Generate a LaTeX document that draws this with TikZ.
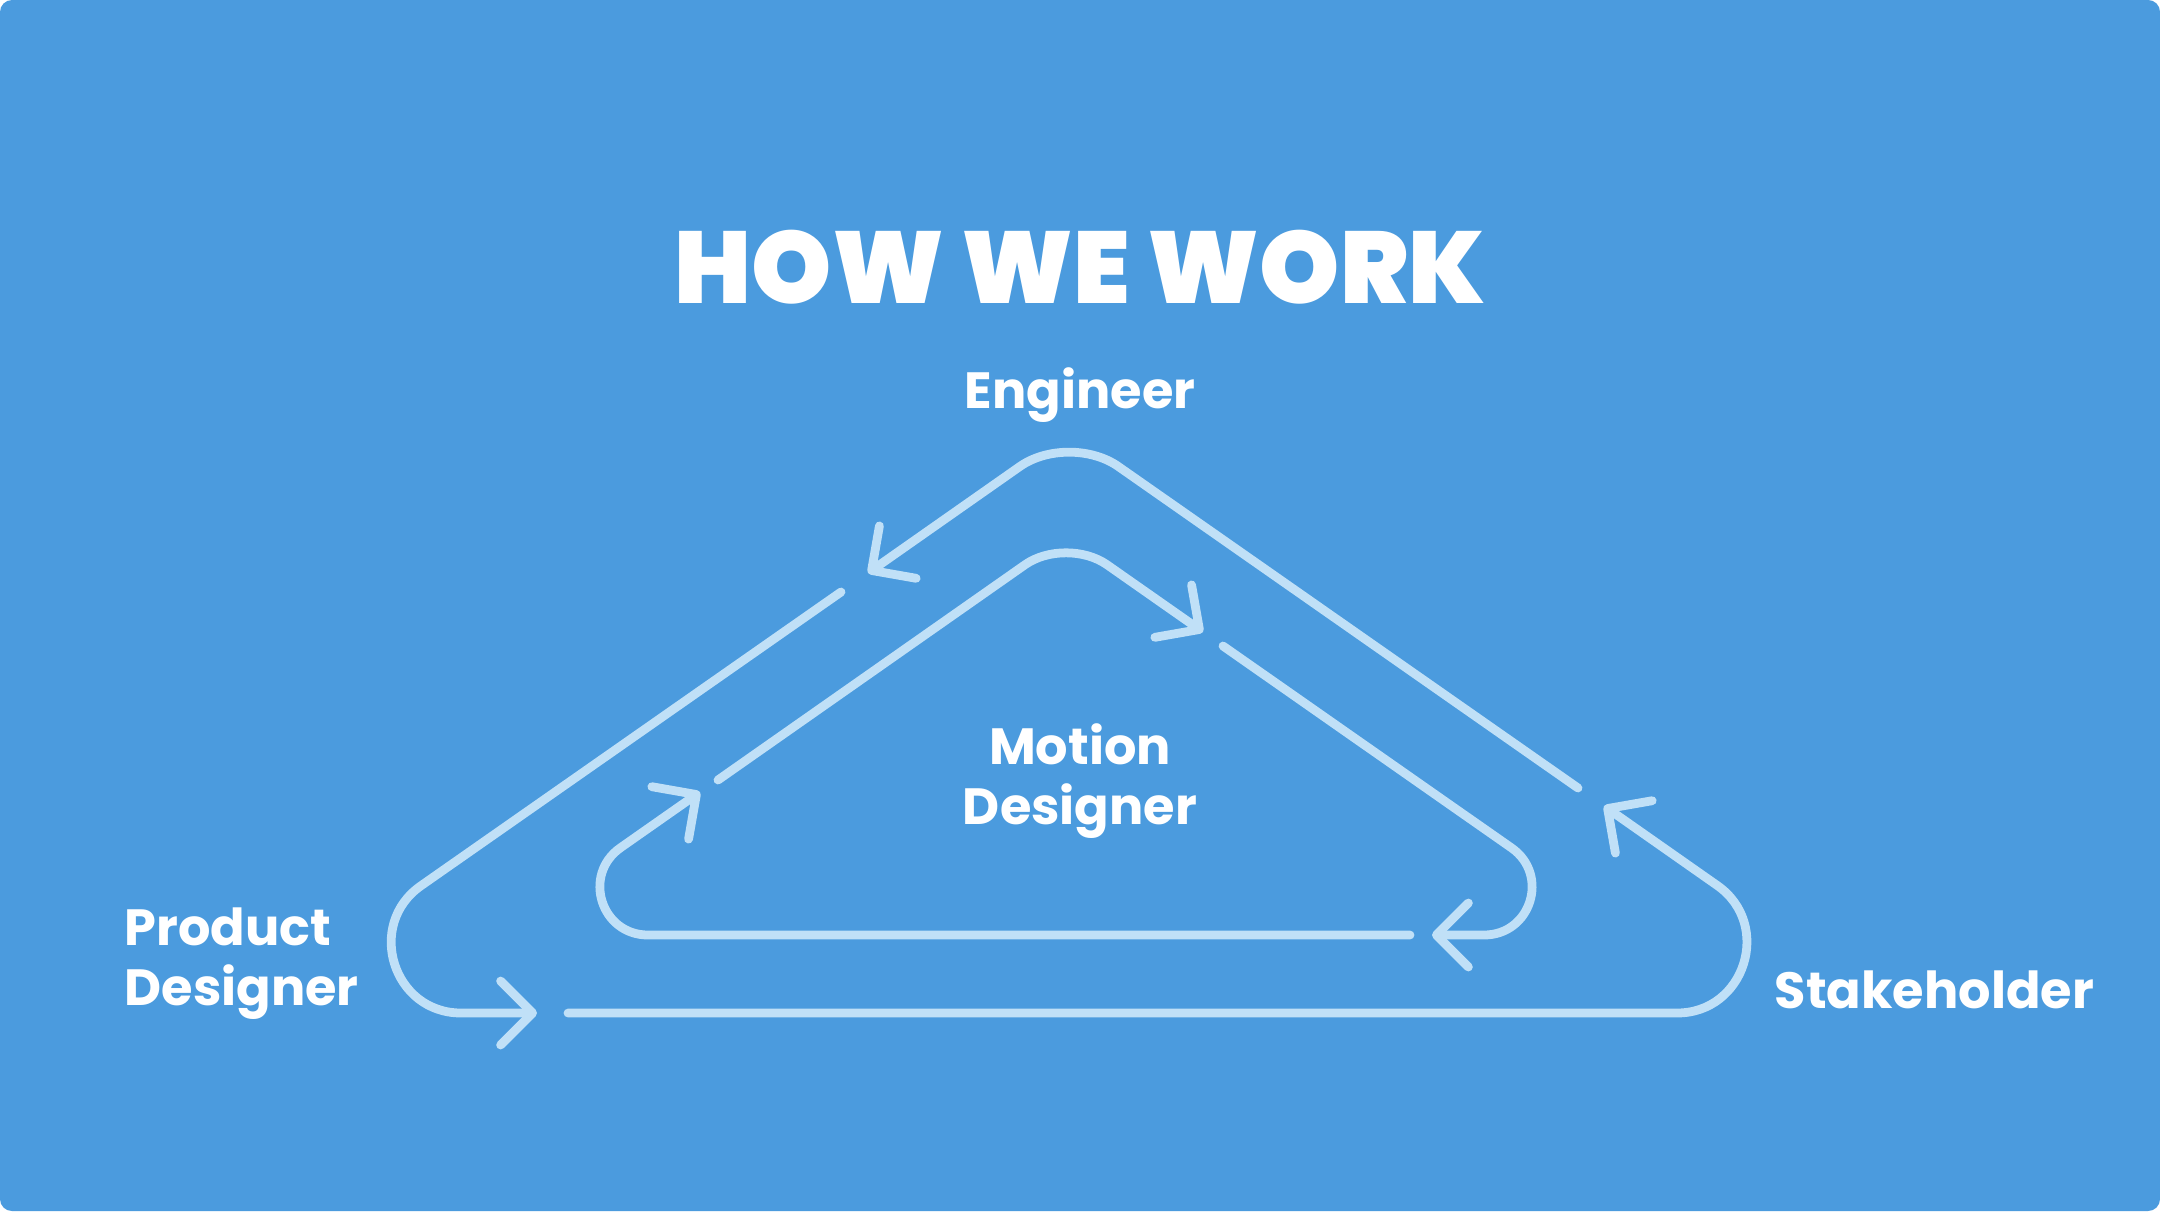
\documentclass[tikz,border=0pt]{standalone}
\usepackage{fontspec}
\setmainfont{Poppins}
\IfFontExistsTF{Poppins Black}{\newfontfamily\titlefont{Poppins Black}}{\newcommand\titlefont{\bfseries}}
\usetikzlibrary{arrows.meta,calc}
\definecolor{bgblue}{RGB}{75,155,222}
\definecolor{loopblue}{RGB}{192,224,247}

\begin{document}
\begin{tikzpicture}
  \tikzset{loop line/.style = {draw=loopblue, line width=2.5pt, line cap=round, line join=round,
                               -{Straight Barb[length=3.2mm,width=6.4mm,round]}},
           role/.style = {text=white, font=\fontsize{14.5}{17}\selectfont\bfseries, inner sep=0pt}}
  % background
  \fill[white] (0,0) rectangle (21.6,12.11);
  \fill[bgblue, rounded corners=0.12cm] (0,0) rectangle (21.6,12.11);
  \useasboundingbox (0,0) rectangle (21.6,12.11);

  \node[anchor=base, text=white, inner sep=0pt, font=\titlefont\fontsize{29}{29}\selectfont] (title) at (10.80,9.08) {HOW WE WORK};
  \node[role, anchor=base] (eng) at (10.80,8.03) {Engineer};
  \node[role, anchor=base, align=center] (motion) at (10.80,3.87) {Motion\\Designer};
  \node[role, anchor=base west, align=left] (prod) at (1.24,2.06) {Product\\Designer};
  \node[role, anchor=base west] (stake) at (17.74,2.03) {Stakeholder};

  % outer loop
  \coordinate (oT) at (10.69,7.79);
  \coordinate (oL) at (2.39,1.98);
  \coordinate (oR) at (18.99,1.98);
  \coordinate (a1) at (15.78,4.23); \coordinate (a2) at (8.68,6.38);
  \coordinate (b1) at (8.41,6.19);  \coordinate (b2) at (5.37,1.98);
  \coordinate (c1) at (5.68,1.98);  \coordinate (c2) at (16.04,4.05);
  \draw[loop line, rounded corners=0.6cm] (a1) -- (oT) -- (a2);
  \draw[loop line] (b1) -- ($(oL)!2.22cm!(b1)$)
    .. controls ($(oL)!1.54cm!(b1)$) and ($(oL)!1.54cm!(b2)$) .. ($(oL)!2.22cm!(b2)$) -- (b2);
  \draw[loop line] (c1) -- ($(oR)!2.22cm!(c1)$)
    .. controls ($(oR)!1.54cm!(c1)$) and ($(oR)!1.54cm!(c2)$) .. ($(oR)!2.22cm!(c2)$) -- (c2);

  % inner loop
  \coordinate (iT) at (10.66,6.75);
  \coordinate (iL) at (4.96,2.76);
  \coordinate (iR) at (16.36,2.76);
  \coordinate (d1) at (7.18,4.31);  \coordinate (d2) at (12.03,5.79);
  \coordinate (e1) at (12.23,5.65); \coordinate (e2) at (14.32,2.76);
  \coordinate (f1) at (14.10,2.76); \coordinate (f2) at (7.00,4.19);
  \draw[loop line, rounded corners=0.5cm] (d1) -- (iT) -- (d2);
  \draw[loop line] (e1) -- ($(iR)!1.52cm!(e1)$)
    .. controls ($(iR)!1.05cm!(e1)$) and ($(iR)!1.05cm!(e2)$) .. ($(iR)!1.52cm!(e2)$) -- (e2);
  \draw[loop line] (f1) -- ($(iL)!1.52cm!(f1)$)
    .. controls ($(iL)!1.05cm!(f1)$) and ($(iL)!1.05cm!(f2)$) .. ($(iL)!1.52cm!(f2)$) -- (f2);
\end{tikzpicture}
\end{document}
